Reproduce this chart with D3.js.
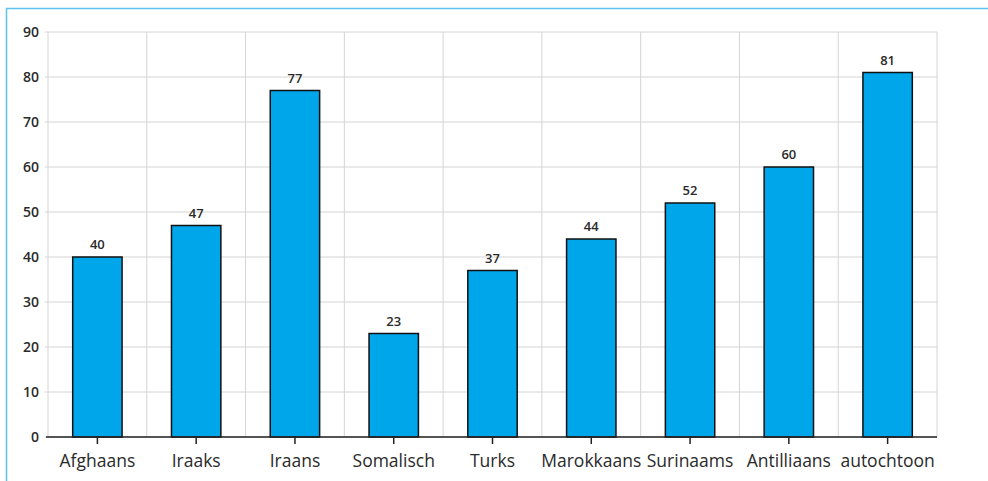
<!DOCTYPE html>
<html><head><meta charset="utf-8">
<script src="https://cdn.jsdelivr.net/npm/d3@7"></script>
<style>body{margin:0;background:#fff;}svg{display:block;font-family:"Open Sans",sans-serif;}</style>
</head><body>
<svg id="c" width="988" height="481"></svg>
<script>
const categories = ["Afghaans","Iraaks","Iraans","Somalisch","Turks","Marokkaans","Surinaams","Antilliaans","autochtoon"];
const values = [40,47,77,23,37,44,52,60,81];
const yTicks = [0,10,20,30,40,50,60,70,80,90];

const svg = d3.select("#c");
const L = 48, R = 937, T = 32, B = 437;

// frame
svg.append("line").attr("x1",6).attr("x2",988).attr("y1",8.5).attr("y2",8.5).attr("stroke","#5bc3ef").attr("stroke-width",1.5);
svg.append("line").attr("x1",6.5).attr("x2",6.5).attr("y1",8).attr("y2",481).attr("stroke","#5bc3ef").attr("stroke-width",1.5);

const x = d3.scaleBand().domain(categories).range([L,R]).paddingInner(0).paddingOuter(0);
const y = d3.scaleLinear().domain([0,90]).range([B,T]);

// horizontal grid
svg.append("g").selectAll("line").data(yTicks).join("line")
  .attr("x1",L-3).attr("x2",R).attr("y1",d=>y(d)).attr("y2",d=>y(d))
  .attr("stroke","#d4d4d4").attr("stroke-width",1);
// vertical grid at band edges
const edges = categories.map(c=>x(c)).concat([R]);
svg.append("g").selectAll("line").data(edges).join("line")
  .attr("x1",d=>d).attr("x2",d=>d).attr("y1",T).attr("y2",B)
  .attr("stroke","#d4d4d4").attr("stroke-width",1);

// y labels
svg.append("g").selectAll("text").data(yTicks).join("text")
  .attr("x",L-9).attr("y",d=>y(d)).attr("dy","0.35em").attr("text-anchor","end")
  .attr("font-size",14).attr("font-weight",600).attr("fill","#2a2a2a").text(d=>d);

// bars
const bw = x.bandwidth()*0.5;
svg.append("g").selectAll("rect").data(values).join("rect")
  .attr("x",(d,i)=>x(categories[i])+x.bandwidth()/2-bw/2)
  .attr("y",d=>y(d)).attr("width",bw).attr("height",d=>B-y(d))
  .attr("fill","#00a6ea").attr("stroke","#111").attr("stroke-width",1.5);

// value labels
svg.append("g").selectAll("text").data(values).join("text")
  .attr("x",(d,i)=>x(categories[i])+x.bandwidth()/2).attr("y",d=>y(d)-8)
  .attr("text-anchor","middle").attr("font-size",13).attr("font-weight",600).attr("fill","#2a2a2a").text(d=>d);

// x axis
svg.append("line").attr("x1",L-2).attr("x2",R).attr("y1",B).attr("y2",B).attr("stroke","#222").attr("stroke-width",1.5);
svg.append("g").selectAll("line").data(categories).join("line")
  .attr("x1",d=>x(d)+x.bandwidth()/2).attr("x2",d=>x(d)+x.bandwidth()/2)
  .attr("y1",B).attr("y2",B+7).attr("stroke","#222").attr("stroke-width",1.5);
svg.append("g").selectAll("text").data(categories).join("text")
  .attr("x",d=>x(d)+x.bandwidth()/2).attr("y",467)
  .attr("text-anchor","middle").attr("font-size",17.5).attr("fill","#2a2a2a").text(d=>d);
</script>
</body></html>
